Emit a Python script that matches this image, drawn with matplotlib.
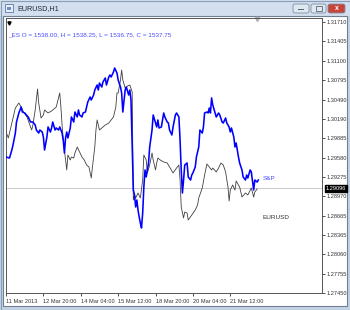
import numpy as np
import matplotlib
matplotlib.use('Agg')
import matplotlib.pyplot as plt
from matplotlib.patches import Rectangle, FancyBboxPatch

W, H = 350, 310

# hourly bar index and prices
eur_bar = [0, 2, 5, 8, 11, 13, 15, 18, 21, 22, 23, 25, 27, 28, 30, 32, 33, 36, 39, 42,
           43, 46, 47, 48, 49, 51, 52, 53, 55, 56, 58, 59, 61, 63, 65, 67, 69, 71, 73, 74,
           76, 77, 78, 80, 82, 85, 88, 90, 92, 94, 95, 96, 98, 99, 100, 102, 104, 106, 108, 109,
           110, 111, 113, 115, 117, 118, 120, 121, 123, 125, 126, 128, 129, 130, 132, 135, 138, 140, 143, 146,
           148, 149, 150, 152, 153, 155, 156, 159, 162, 164, 165, 168, 170, 172, 174, 176, 177, 180, 182, 184,
           186, 188, 190, 191, 192, 194, 196, 197, 200, 202, 205, 207, 210, 212, 213, 215]
eur_price = [1.29981, 1.29887, 1.30122, 1.30358, 1.30437, 1.30374, 1.30295, 1.30217, 1.30060, 1.30012,
             1.30091, 1.30327, 1.30657, 1.30437, 1.30201, 1.30248, 1.30327, 1.30280, 1.30311, 1.30358,
             1.30374, 1.30594, 1.30374, 1.30091, 1.29855, 1.29541, 1.29384, 1.29620, 1.29541, 1.29588,
             1.29572, 1.29651, 1.29745, 1.29667, 1.29588, 1.29541, 1.29462, 1.29431, 1.29258, 1.29431,
             1.29745, 1.30012, 1.30170, 1.30012, 1.30044, 1.30091, 1.30122, 1.30170, 1.30217, 1.30374,
             1.30594, 1.30594, 1.30798, 1.30956, 1.30798, 1.30673, 1.30704, 1.30720, 1.30610, 1.28912,
             1.28991, 1.28944, 1.29022, 1.28944, 1.29226, 1.29620, 1.29541, 1.29337, 1.29462, 1.29651,
             1.29541, 1.29384, 1.29494, 1.29572, 1.29541, 1.29509, 1.29494, 1.29431, 1.29337, 1.29415,
             1.29462, 1.29226, 1.28802, 1.28629, 1.28723, 1.28708, 1.28598, 1.28676, 1.28755, 1.28834,
             1.28944, 1.29101, 1.29305, 1.29478, 1.29431, 1.29384, 1.29415, 1.29352, 1.29415, 1.29494,
             1.29462, 1.29352, 1.29116, 1.28896, 1.29069, 1.29148, 1.29069, 1.29211, 1.29116, 1.28959,
             1.29022, 1.28991, 1.29101, 1.28959, 1.29038, 1.29085]

# S&P overlay, already scaled onto the EURUSD price axis
spx_bar = [0, 3, 5, 6, 8, 9, 11, 13, 14, 16, 19, 21, 23, 25, 26, 28, 29, 31, 32, 33,
           35, 36, 38, 39, 40, 42, 43, 45, 46, 48, 49, 50, 51, 52, 53, 55, 56, 58, 59, 61,
           62, 63, 65, 66, 68, 69, 70, 72, 73, 75, 76, 78, 79, 80, 82, 83, 85, 86, 88, 89,
           90, 92, 93, 95, 96, 98, 99, 100, 102, 103, 105, 106, 107, 108, 109, 110, 111, 112, 113, 114,
           115, 116, 117, 118, 119, 120, 122, 123, 125, 126, 128, 129, 130, 131, 133, 135, 136, 138, 139, 140,
           142, 143, 145, 146, 148, 149, 150, 151, 152, 153, 155, 156, 158, 159, 160, 162, 163, 165, 166, 168,
           169, 170, 172, 173, 174, 175, 176, 177, 179, 180, 182, 183, 185, 186, 188, 189, 191, 192, 193, 195,
           196, 197, 199, 200, 202, 203, 205, 206, 207, 209, 210, 212, 213, 215, 216]
spx_price = [1.29588, 1.29572, 1.29698, 1.29777, 1.29965, 1.30138, 1.30280, 1.30374, 1.30295, 1.30280,
             1.30217, 1.30138, 1.30138, 1.30091, 1.30012, 1.29965, 1.30012, 1.29981, 1.29902, 1.29698,
             1.29902, 1.30060, 1.29981, 1.30044, 1.30138, 1.30012, 1.30044, 1.30012, 1.30060, 1.29965,
             1.29855, 1.29651, 1.29887, 1.29981, 1.29887, 1.30044, 1.30217, 1.30138, 1.30295, 1.30217,
             1.30327, 1.30248, 1.30217, 1.30280, 1.30295, 1.30374, 1.30453, 1.30531, 1.30484, 1.30563,
             1.30641, 1.30720, 1.30641, 1.30751, 1.30688, 1.30767, 1.30830, 1.30720, 1.30846, 1.30877,
             1.30846, 1.30924, 1.30987, 1.30908, 1.30798, 1.30688, 1.30594, 1.30295, 1.30641, 1.30688,
             1.30563, 1.30641, 1.30484, 1.29745, 1.29069, 1.28991, 1.28802, 1.28912, 1.28755, 1.28645,
             1.28551, 1.28472, 1.28708, 1.29116, 1.29384, 1.29274, 1.29494, 1.29745, 1.30012, 1.30248,
             1.30122, 1.30060, 1.30170, 1.30044, 1.30060, 1.30280, 1.30217, 1.30138, 1.30122, 1.30012,
             1.29934, 1.30060, 1.30248, 1.30280, 1.30217, 1.29855, 1.29384, 1.29022, 1.29226, 1.29462,
             1.29494, 1.29274, 1.29226, 1.29305, 1.29337, 1.29431, 1.29588, 1.29745, 1.30012, 1.29965,
             1.30060, 1.30280, 1.30295, 1.30280, 1.30358, 1.30280, 1.30516, 1.30405, 1.30280, 1.30217,
             1.30280, 1.30248, 1.30138, 1.30122, 1.30201, 1.30122, 1.30060, 1.29981, 1.30044, 1.29902,
             1.29745, 1.29808, 1.29588, 1.29494, 1.29384, 1.29274, 1.29226, 1.29305, 1.29258, 1.29384,
             1.29352, 1.29069, 1.29226, 1.29194, 1.29226]

bid = 1.29096
y_ticks = [1.31710, 1.31405, 1.31100, 1.30795, 1.30490, 1.30190, 1.29885, 1.29580,
           1.29275, 1.28970, 1.28665, 1.28365, 1.28060, 1.27755, 1.27450]
x_ticks = [0, 32, 64, 96, 128, 160, 192]
x_labels = ['11 Mar 2013', '12 Mar 20:00', '14 Mar 04:00', '15 Mar 12:00',
            '18 Mar 20:00', '20 Mar 04:00', '21 Mar 12:00']
legend_text = '_ES O = 1538.00, H = 1538.25, L = 1536.75, C = 1537.75'

FONT = 'Liberation Sans'


def fr(x, y):
    # pixel position (from top-left) to figure fraction
    return x / W, 1 - y / H


def rect(x0, y0, x1, y1, **kw):
    (a, b) = fr(x0, y1)
    return Rectangle((a, b), (x1 - x0) / W, (y1 - y0) / H, transform=fig.transFigure, **kw)


fig = plt.figure(figsize=(W / 100, H / 100), dpi=100, facecolor='#c4d3e6')

# window chrome
fig.add_artist(rect(0, 0, W, 16, facecolor='#d3dfee', edgecolor='none'))
fig.add_artist(rect(0.5, 0.5, W - 0.5, H - 0.5, facecolor='none', edgecolor='#8a9db4', lw=0.8))
fig.add_artist(rect(3, 16, 347, 306, facecolor='white', edgecolor='#6f7f94', lw=0.8))
fig.add_artist(rect(5, 4, 13, 12, facecolor='#e8eef6', edgecolor='#5b7aa6', lw=0.6))
fig.add_artist(rect(7, 7, 11, 10, facecolor='#6d8fc4', edgecolor='none'))
fig.text(*fr(17, 8.5), 'EURUSD,H1', fontsize=5.2, family=FONT, color='#1e2a3a', va='center')

for x0, x1, fc in [(293, 309, '#dfe7f1'), (311, 326, '#dfe7f1'), (328, 345, '#c8443a')]:
    a, b = fr(x0, 13)
    fig.add_artist(FancyBboxPatch((a, b), (x1 - x0) / W, 9 / H, boxstyle='round,pad=0,rounding_size=0.006',
                                  transform=fig.transFigure, facecolor=fc, edgecolor='#7d8ea3', lw=0.6))
fig.add_artist(rect(298, 9, 304, 10.2, facecolor='#5a6676', edgecolor='none'))
fig.add_artist(rect(315.5, 6.5, 321.5, 10.5, facecolor='none', edgecolor='#5a6676', lw=0.6))
fig.text(*fr(336.5, 8.5), 'x', fontsize=5, family=FONT, color='white', ha='center', va='center',
         fontweight='bold')

# chart area
ax = fig.add_axes([6 / W, 1 - 293 / H, 316 / W, 275 / H])
ax.set_zorder(10)
ax.set_facecolor('white')
ax.set_xlim(0, 270.5)
ax.set_ylim(1.27450, 1.31773)

ax.axhline(bid, color='#c0c0c0', lw=0.6, zorder=1)
ax.plot(eur_bar, eur_price, color='#404040', lw=0.6, zorder=2)
ax.plot(spx_bar, spx_price, color='#0000ff', lw=1.15, zorder=3)

for s in ax.spines.values():
    s.set_color('#555555')
    s.set_linewidth(0.7)

ax.yaxis.tick_right()
ax.set_yticks(y_ticks)
ax.set_yticklabels(['%.5f' % v for v in y_ticks], fontsize=4.1, family=FONT, color='#222222')
ax.tick_params(axis='y', direction='out', length=2, width=0.6, pad=1, colors='#333333')
ax.set_xticks(x_ticks)
ax.set_xticklabels(x_labels, fontsize=4.1, family=FONT, color='#222222', ha='left')
ax.tick_params(axis='x', direction='out', length=2.5, width=0.6, pad=1.5, colors='#333333')

# current price tag on the scale
ax.annotate('%.5f' % bid, xy=(1.0, bid), xycoords=('axes fraction', 'data'),
            xytext=(2.5, 0), textcoords='offset points', fontsize=4.1, family=FONT,
            color='white', va='center', ha='left',
            bbox=dict(boxstyle='square,pad=0.15', facecolor='black', edgecolor='black'),
            annotation_clip=False)

# indicator labels
ax.text(1.5, 1.31510, legend_text, fontsize=4.6, family=FONT, color='#4b4bff', va='center')
ax.text(220, spx_price[-1] + 0.0002, 'S&P', fontsize=4.6, family=FONT, color='#4b4bff', va='center')
ax.text(219.5, 1.28630, 'EURUSD', fontsize=4.6, family=FONT, color='#333333', va='center')

# small markers on the top edge
ax.plot([2.5], [1.3170], marker='v', ms=2.3, color='black', clip_on=False)
ax.plot([215], [1.3175], marker='v', ms=3, color='#b0b0b0', clip_on=False)

fig.savefig('out.png', dpi=100, facecolor=fig.get_facecolor())
